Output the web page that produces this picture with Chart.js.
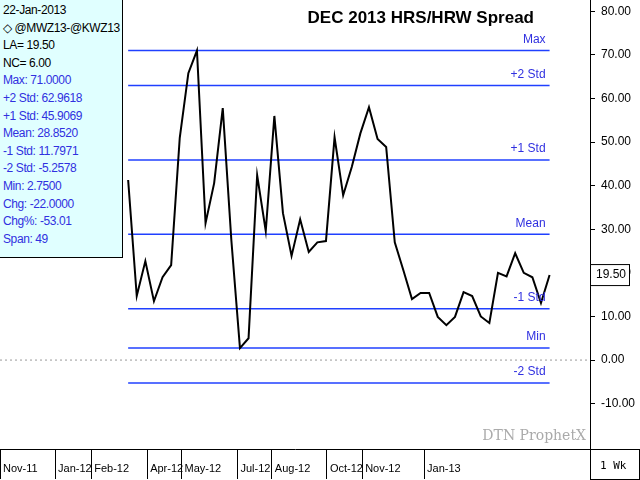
<!DOCTYPE html>
<html><head><meta charset="utf-8">
<script src="https://cdn.jsdelivr.net/npm/chart.js@4"></script>
<style>
body{margin:0;background:#fff;}
#wrap{position:relative;width:640px;height:480px;}
#info{position:absolute;left:0;top:0;width:123px;height:258px;background:#e0ffff;border-right:1px solid #000;border-bottom:1px solid #000;font:12px "Liberation Sans",Arial,sans-serif;letter-spacing:-0.4px;white-space:nowrap;line-height:17.6px;padding:2px 0 0 3px;box-sizing:border-box;overflow:hidden;}
#info .b{color:#3030e0}
</style></head><body>
<div id="wrap"><canvas id="c" width="640" height="480"></canvas>
<div id="info"></div></div>
<script>
const values=[41.3,14.7,22.7,13.5,19,21.8,51,65.8,71,31.4,40.6,57.8,27.5,2.75,5,42.4,29.6,56,33.7,23.9,32.3,24.8,27,27.3,51.1,37.8,44.3,52,58,50.7,48.9,27,20.6,14,15.4,15.4,9.9,8,9.9,15.6,14.7,10,8.5,20,19.2,24.5,20,19,13.1,19.5];
const monthLabels=["Nov-11","Jan-12","Feb-12","Apr-12","May-12","Jul-12","Aug-12","Oct-12","Nov-12","Jan-13"];
const monthPos=[-14.9,-8.5,-4.3,2.2,6.2,12.7,16.7,23.1,27.2,34.4];
const statNames=["Max","+2 Std","+1 Std","Mean","-1 Std","Min","-2 Std"];
const statValues=[71.0,62.9618,45.9069,28.8520,11.7971,2.75,-5.2578];
const yTicks=[-10,0,10,20,30,40,50,60,70,80];
const infoLines=[["22-Jan-2013",""],["◇ @MWZ13-@KWZ13",""],["LA= 19.50",""],["NC= 6.00",""],["Max: 71.0000","b"],["+2 Std: 62.9618","b"],["+1 Std: 45.9069","b"],["Mean: 28.8520","b"],["-1 Std: 11.7971","b"],["-2 Std: -5.2578","b"],["Min: 2.7500","b"],["Chg: -22.0000","b"],["Chg%: -53.01","b"],["Span: 49","b"]];
document.getElementById('info').innerHTML=infoLines.map(l=>'<div class="'+l[1]+'">'+l[0]+'</div>').join('');
const F='"Liberation Sans",Arial,sans-serif';
const last=values.length-1;
const datasets=[{data:values.map((v,i)=>({x:i,y:v})),borderColor:'#000',borderWidth:2,pointRadius:0,tension:0,order:0}];
statValues.forEach(v=>datasets.push({data:[{x:0,y:v},{x:last,y:v}],borderColor:'#2040ff',borderWidth:1.5,pointRadius:0,order:1}));
datasets.push({data:[{x:-14.9,y:0},{x:53.7,y:0}],borderColor:'#999',borderWidth:1,borderDash:[2,3],pointRadius:0,order:2});
const deco={id:'deco',afterDatasetsDraw(ch){
 const c=ch.ctx,ys=ch.scales.y,xs=ch.scales.x;
 c.save();c.font='12px '+F;c.fillStyle='#3030e0';c.textAlign='right';c.textBaseline='bottom';
 statValues.forEach((v,i)=>c.fillText(statNames[i],xs.getPixelForValue(last)-4,ys.getPixelForValue(v)-5));
 c.fillStyle='#000';c.textAlign='right';c.textBaseline='middle';c.font='bold 17px '+F;
 c.fillText('DEC 2013 HRS/HRW Spread',534,18);
 c.font='14px "DejaVu Serif",serif';c.fillStyle='#aaa';c.textBaseline='middle';c.fillText('DTN ProphetX',586,436);
 const ly=ys.getPixelForValue(values[last]);
 c.fillStyle='#fff';c.strokeStyle='#000';c.lineWidth=1;c.fillRect(590,ly-11,40,22);c.strokeRect(590.5,ly-10.5,39,21);
 c.fillStyle='#000';c.font='12px '+F;c.textAlign='left';c.fillText(values[last].toFixed(2),596,ly);
 c.strokeRect(590.5,449.5,49,30);c.font='11px "DejaVu Sans Mono",monospace';c.fillText('1 Wk',600,466);
 c.restore();
}};
new Chart(document.getElementById('c'),{type:'line',data:{datasets},plugins:[deco],
options:{responsive:false,animation:false,layout:{padding:0},
plugins:{legend:{display:false},tooltip:{enabled:false}},
scales:{
 x:{type:'linear',min:-14.9,max:53.7,afterBuildTicks(a){a.ticks=monthPos.map(v=>({value:v}));},afterFit(a){a.height=31;a.paddingLeft=0;a.paddingRight=0;},
  ticks:{autoSkip:false,maxRotation:0,align:'start',padding:-17,font:{family:F,size:11},color:'#000',callback:(v,i)=>' '+monthLabels[i]},
  grid:{drawOnChartArea:false,tickLength:30,color:'#000'},border:{color:'#000'}},
 y:{position:'right',min:-20.4,max:82.6,afterBuildTicks(a){a.ticks=yTicks.map(v=>({value:v}));},afterFit(a){a.width=50;a.paddingTop=0;a.paddingBottom=0;},
  ticks:{font:{family:F,size:12},color:'#000',padding:6,callback:v=>v.toFixed(2)},
  grid:{drawOnChartArea:false,tickLength:5,color:'#000'},border:{color:'#000'}}
}}});
</script></body></html>
